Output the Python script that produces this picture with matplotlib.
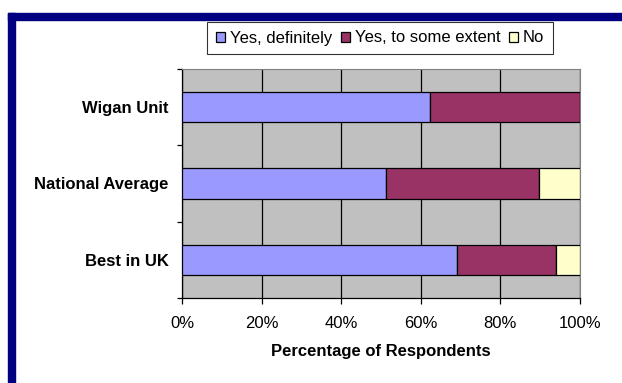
import matplotlib
matplotlib.use("Agg")
import matplotlib.pyplot as plt
from matplotlib.patches import Rectangle
from matplotlib.ticker import FixedLocator, PercentFormatter

# ── data ───────────────────────────────────────────────────────────────────────
categories = ["Best in UK", "National Average", "Wigan Unit"]   # bottom → top
yes_definitely = [69.1, 51.3, 62.4]
yes_some = [24.8, 38.5, 37.6]
no = [6.1, 10.2, 0.0]
series_names = ["Yes, definitely", "Yes, to some extent", "No"]
colors = ["#9999FF", "#993366", "#FFFFCC"]

plt.rcParams["font.family"] = ["Liberation Sans", "DejaVu Sans"]
FS = 12

fig = plt.figure(figsize=(6.22, 3.83), dpi=100)
ax = fig.add_axes([182 / 622, 1 - 298 / 383, 398 / 622, 229 / 383])

# navy frame strips (top and left edge of the slide)
fig.patches.append(Rectangle((8 / 622, 0), 7 / 622, 1 - 13 / 383,
                             transform=fig.transFigure, color="#000080", zorder=0))
fig.patches.append(Rectangle((8 / 622, 1 - 19.5 / 383), 1, 6.5 / 383,
                             transform=fig.transFigure, color="#000080", zorder=0))

ypos = list(range(len(categories)))
left = [0.0] * len(categories)
for vals, name, col in zip([yes_definitely, yes_some, no], series_names, colors):
    ax.barh(ypos, vals, left=left, height=0.4, color=col, edgecolor="black",
            linewidth=0.9, label=name, zorder=3)
    left = [a + b for a, b in zip(left, vals)]

ax.set_facecolor("#C0C0C0")
ax.set_xlim(0, 100)
ax.set_ylim(-0.5, len(categories) - 0.5)
ax.set_xticks(range(0, 101, 20))
ax.xaxis.set_major_formatter(PercentFormatter(decimals=0))
ax.grid(axis="x", color="black", linewidth=0.9, zorder=1)
ax.set_axisbelow(True)

ax.set_yticks(ypos)
ax.set_yticklabels(categories, fontweight="bold", fontsize=FS)
ax.yaxis.set_minor_locator(FixedLocator([i - 0.5 for i in range(len(categories) + 1)]))
ax.tick_params(axis="y", which="major", length=0, pad=9.5)
ax.tick_params(axis="y", which="minor", length=3.5, width=0.9)
ax.tick_params(axis="x", length=4, width=0.9, labelsize=FS, pad=9)

for side in ("top", "right"):
    ax.spines[side].set_color("#808080")
for side in ("left", "bottom"):
    ax.spines[side].set_color("black")
    ax.spines[side].set_linewidth(0.9)

ax.set_xlabel("Percentage of Respondents", fontweight="bold", fontsize=FS, labelpad=9)

leg = fig.legend(loc="center", bbox_to_anchor=(380 / 622, 1 - 38 / 383), ncol=3,
                 frameon=True, fancybox=False, edgecolor="black", fontsize=FS,
                 handlelength=0.55, handleheight=0.55, handletextpad=0.3,
                 columnspacing=0.5, borderpad=0.5, borderaxespad=0)
leg.get_frame().set_linewidth(0.8)

fig.savefig("out.png", dpi=100)
